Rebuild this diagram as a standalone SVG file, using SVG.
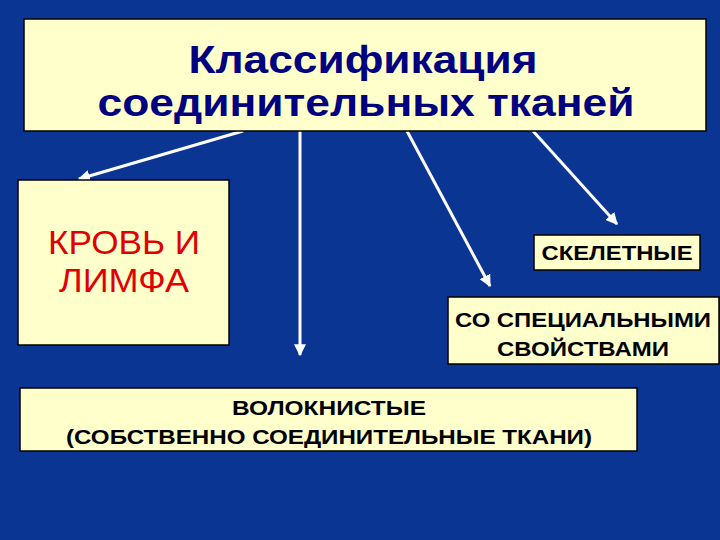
<svg xmlns="http://www.w3.org/2000/svg" width="720" height="540" viewBox="0 0 720 540">
<defs>
<style>
.box{fill:#FFFFCC;stroke:#000;stroke-width:1.5}
.t{font-family:"Liberation Sans",Arial,sans-serif;text-anchor:middle}
.title{font-size:39px;font-weight:bold;fill:#000080}
.red{font-size:33px;fill:#E00000}
.b{font-size:21px;font-weight:bold;fill:#000}
.c{stroke:#fff;stroke-width:3;fill:none;marker-end:url(#ah)}
</style>
<marker id="ah" viewBox="0 0 10 10" refX="9" refY="5" markerWidth="4" markerHeight="4" orient="auto" markerUnits="strokeWidth">
<path d="M0,0 L10,5 L0,10 z" fill="#fff"/>
</marker>
</defs>
<rect width="720" height="540" fill="#0B3592"/>
<g id="connectors">
<line class="c" x1="243" y1="131" x2="79" y2="179"/>
<line class="c" x1="300" y1="131" x2="300" y2="355"/>
<line class="c" x1="407" y1="131" x2="490" y2="286"/>
<line class="c" x1="533" y1="131" x2="617" y2="224"/>
</g>
<g id="title">
<rect class="box" x="24" y="19" width="682" height="112"/>
<text class="t title" x="363" y="73" textLength="349" lengthAdjust="spacingAndGlyphs">Классификация</text>
<text class="t title" x="366" y="116" textLength="537" lengthAdjust="spacingAndGlyphs">соединительных тканей</text>
</g>
<g id="krov">
<rect class="box" x="18" y="180" width="211" height="165"/>
<text class="t red" x="124" y="254" textLength="152" lengthAdjust="spacingAndGlyphs">КРОВЬ И</text>
<text class="t red" x="124" y="292" textLength="130" lengthAdjust="spacingAndGlyphs">ЛИМФА</text>
</g>
<g id="skelet">
<rect class="box" x="534" y="235" width="166" height="35"/>
<text class="t b" x="617" y="260" textLength="151" lengthAdjust="spacingAndGlyphs">СКЕЛЕТНЫЕ</text>
</g>
<g id="spec">
<rect class="box" x="448" y="297" width="271" height="67"/>
<text class="t b" x="583" y="327" textLength="256" lengthAdjust="spacingAndGlyphs">СО СПЕЦИАЛЬНЫМИ</text>
<text class="t b" x="583" y="356" textLength="172" lengthAdjust="spacingAndGlyphs">СВОЙСТВАМИ</text>
</g>
<g id="volok">
<rect class="box" x="20" y="388" width="617" height="63"/>
<text class="t b" x="329" y="415" textLength="194" lengthAdjust="spacingAndGlyphs">ВОЛОКНИСТЫЕ</text>
<text class="t b" x="329" y="444" textLength="526" lengthAdjust="spacingAndGlyphs">(СОБСТВЕННО СОЕДИНИТЕЛЬНЫЕ ТКАНИ)</text>
</g>
</svg>
